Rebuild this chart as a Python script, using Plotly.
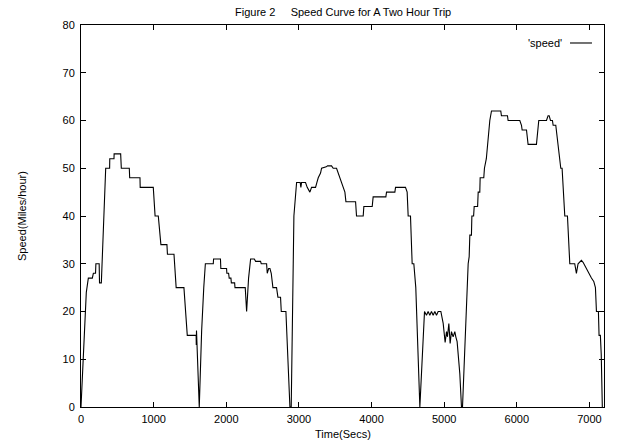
import plotly.graph_objects as go

# Time (secs) and speed (miles/hour)
time_secs = [
    0, 28, 73, 101, 156, 170, 200, 205, 250, 255, 280, 340, 394, 396, 454, 456,
    546, 555, 665, 670, 812, 815, 995, 1020, 1064, 1100, 1183, 1190, 1280, 1310,
    1417, 1463, 1573, 1585, 1587, 1590, 1628, 1661, 1690, 1712, 1821, 1825, 1920,
    1925, 2004, 2008, 2032, 2040, 2064, 2070, 2115, 2120, 2197, 2200, 2261, 2280,
    2307, 2335, 2386, 2404, 2472, 2481, 2555, 2564, 2583, 2601, 2619, 2642, 2692,
    2711, 2747, 2757, 2821, 2876, 2894, 2931, 2968, 3018, 3027, 3036, 3091, 3114,
    3151, 3174, 3229, 3247, 3266, 3298, 3312, 3376, 3394, 3449, 3472, 3518, 3564,
    3596, 3633, 3647, 3780, 3793, 3885, 3894, 4009, 4022, 4197, 4206, 4321, 4330,
    4467, 4490, 4504, 4536, 4550, 4559, 4582, 4600, 4609, 4665, 4729, 4756, 4779,
    4802, 4825, 4848, 4871, 4894, 4917, 4954, 4977, 4986, 5013, 5032, 5045, 5064,
    5082, 5100, 5123, 5146, 5160, 5178, 5215, 5238, 5252, 5270, 5298, 5316, 5330,
    5344, 5353, 5375, 5381, 5405, 5413, 5460, 5468, 5490, 5495, 5545, 5554, 5580,
    5628, 5651, 5779, 5788, 5871, 5880, 6041, 6064, 6073, 6133, 6155, 6270, 6302,
    6408, 6430, 6445, 6463, 6490, 6500, 6536, 6568, 6605, 6623, 6660, 6697, 6729,
    6797, 6820, 6843, 6889, 6912, 6935, 6958, 6990, 7027, 7059, 7082, 7096, 7123,
    7132, 7150, 7162, 7177,
]
speed_mph = [
    0, 10, 24, 27, 27, 28, 28, 30, 30, 26, 26, 50, 50, 52, 52, 53,
    53, 50, 50, 48, 48, 46, 46, 40, 40, 34, 34, 32, 32, 25,
    25, 15, 15, 15, 13, 16, 0, 16, 25, 30, 30, 31, 31,
    29, 29, 28, 28, 27, 27, 26, 26, 25, 25, 25, 25, 20,
    27, 31, 31, 30.5, 30.5, 30, 30, 28, 29, 29, 28, 25, 25,
    23, 23, 20, 20, 0, 0, 40, 47, 47, 46, 47, 47, 46,
    45, 46, 46, 47, 48, 49, 50, 50.3, 50.5, 50.5, 50, 50, 48,
    46.5, 45, 43, 43, 40, 40, 42, 42, 44, 44, 45, 45, 46,
    46, 45, 40, 40, 35, 30, 30, 25, 25, 0, 20, 19.2, 20,
    19.2, 20, 19.2, 20, 19.2, 20, 20, 18, 17.5, 13.5, 15.8, 14.7, 17.5,
    13.3, 15.8, 14.7, 15.8, 14.7, 13.7, 7, 0, 0, 7.7, 16.8, 24, 30,
    31.5, 36, 36, 40, 40, 42, 42, 45, 45, 48, 48, 50, 52,
    60, 62, 62, 61, 61, 60, 60, 59, 58, 58, 55, 55, 60,
    60, 61, 61, 60, 60, 59, 59, 54.5, 50, 50, 40, 40, 30,
    30, 28, 30, 30.7, 30.3, 29.6, 29, 28, 27, 26.3, 25, 20, 20,
    15, 15, 11, 0,
]

x_ticks = [0, 1000, 2000, 3000, 4000, 5000, 6000, 7000]
y_ticks = [0, 10, 20, 30, 40, 50, 60, 70, 80]

title_text = "Figure 2\u00a0\u00a0\u00a0\u00a0 Speed Curve for A Two Hour Trip"
x_title = "Time(Secs)"
y_title = "Speed(Miles/hour)"
series_name = "'speed'"

FONT = "Liberation Sans, Arial, Helvetica, sans-serif"

fig = go.Figure()
fig.add_trace(go.Scatter(
    x=time_secs, y=speed_mph, mode="lines", name=series_name,
    line=dict(color="black", width=1.1), showlegend=False,
))

axis_common = dict(
    showline=True, linecolor="black", linewidth=1, mirror="ticks",
    ticks="inside", ticklen=5, tickcolor="black", tickwidth=1,
    showgrid=False, zeroline=False,
    tickfont=dict(family=FONT, size=11, color="black"),
)

fig.update_layout(
    width=622, height=445,
    margin=dict(l=81, r=18, t=25, b=38),
    paper_bgcolor="white", plot_bgcolor="white",
    font=dict(family=FONT, size=11, color="black"),
    xaxis=dict(range=[0, 7200], tickvals=x_ticks, ticklabelstandoff=2,
               **axis_common),
    yaxis=dict(range=[0, 80], tickvals=y_ticks, ticklabelstandoff=3,
               **axis_common),
    showlegend=False,
    annotations=[
        dict(text=title_text, xref="paper", yref="paper", x=0.5, y=1,
             yshift=5, xanchor="center", yanchor="bottom", showarrow=False,
             font=dict(family=FONT, size=11, color="black")),
        dict(text=x_title, xref="paper", yref="paper", x=0.5, y=0,
             yshift=-19, xanchor="center", yanchor="top", showarrow=False,
             font=dict(family=FONT, size=11, color="black")),
        dict(text=y_title, xref="paper", yref="paper", x=0, y=0.5,
             xshift=-59, xanchor="center", yanchor="middle", showarrow=False,
             textangle=-90,
             font=dict(family=FONT, size=11, color="black")),
        dict(text=series_name, xref="paper", yref="paper", x=0.9235, y=0.9529,
             xanchor="right", yanchor="middle", showarrow=False,
             font=dict(family=FONT, size=11, color="black")),
    ],
    shapes=[
        dict(type="line", xref="paper", yref="paper", x0=0.935, x1=0.977,
             y0=0.9529, y1=0.9529, line=dict(color="black", width=1.1)),
    ],
)

fig.write_html("out.html")
